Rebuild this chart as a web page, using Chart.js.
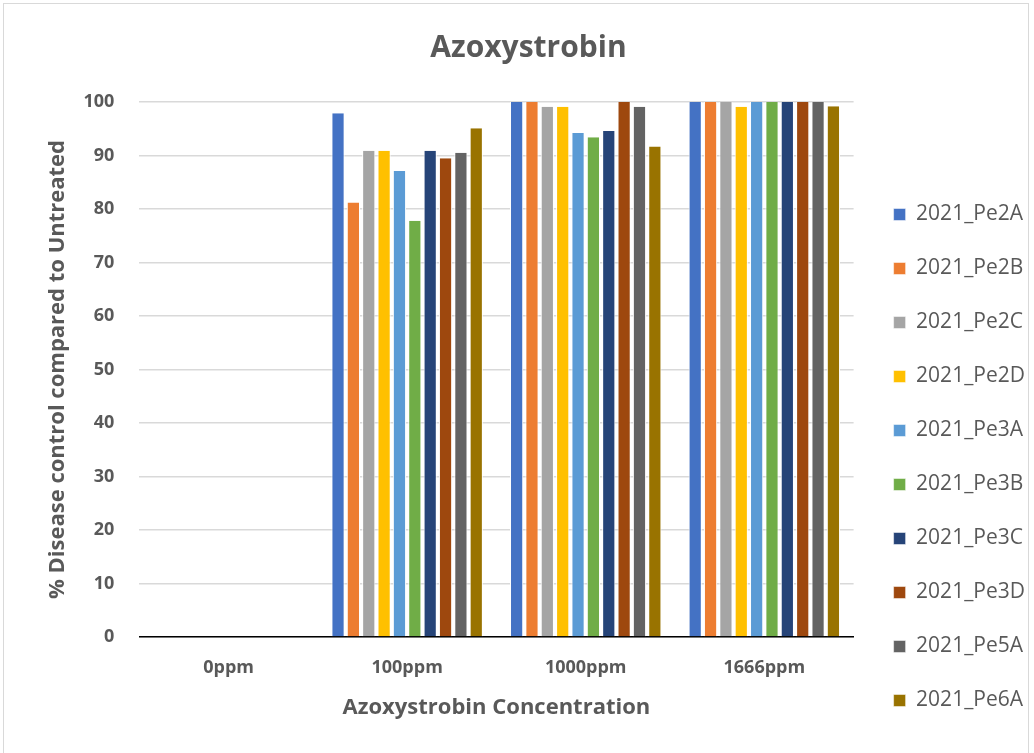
<!DOCTYPE html>
<html>
<head>
<meta charset="utf-8">
<script src="https://cdn.jsdelivr.net/npm/chart.js@4/dist/chart.umd.min.js"></script>
<style>
  html, body { margin: 0; padding: 0; background: #fff; }
  #wrap { position: absolute; left: 3px; top: 3px; width: 1026px; height: 750px; border: 1px solid #d9d9d9; border-bottom: none; box-sizing: border-box; }
  canvas { display: block; }
</style>
</head>
<body>
<div id="wrap"><canvas id="chart"></canvas></div>
<script>
// ===== DATOS =====
const categories = ['0ppm', '100ppm', '1000ppm', '1666ppm'];
const seriesNames = ['2021_Pe2A', '2021_Pe2B', '2021_Pe2C', '2021_Pe2D', '2021_Pe3A',
                     '2021_Pe3B', '2021_Pe3C', '2021_Pe3D', '2021_Pe5A', '2021_Pe6A'];
const pe2A = [0, 97.9, 100, 100];
const pe2B = [0, 81.2, 100, 100];
const pe2C = [0, 90.9, 99.1, 100];
const pe2D = [0, 90.9, 99.1, 99.1];
const pe3A = [0, 87.1, 94.2, 100];
const pe3B = [0, 77.8, 93.4, 100];
const pe3C = [0, 90.9, 94.6, 100];
const pe3D = [0, 89.5, 100, 100];
const pe5A = [0, 90.5, 99.1, 100];
const pe6A = [0, 95.1, 91.7, 99.2];
const yTicks = [0, 10, 20, 30, 40, 50, 60, 70, 80, 90, 100];

const seriesValues = [pe2A, pe2B, pe2C, pe2D, pe3A, pe3B, pe3C, pe3D, pe5A, pe6A];
const seriesColors = ['#4472c4', '#ed7d31', '#a5a5a5', '#ffc000', '#5b9bd5',
                      '#70ad47', '#264478', '#9e480e', '#636363', '#997300'];

const FONT = 'Open Sans, sans-serif';
const TEXT = '#595959';

// Ajusta posición de leyenda y título (como en Excel)
const layoutTweaks = {
    id: 'layoutTweaks',
    afterLayout: (chart) => {
        const lg = chart.legend;
        if (lg) {
            lg.top += 19;
            lg.bottom += 19;
            lg.left += 7;
            lg.right += 7;
        }
        const tt = chart.titleBlock;
        if (tt) {
            tt.left -= 8;
            tt.right -= 8;
        }
    }
};

const datasets = seriesNames.map((name, i) => ({
    label: name,
    data: seriesValues[i],
    backgroundColor: seriesColors[i],
    borderColor: '#ffffff',
    borderWidth: { left: 1, right: 1, top: 0, bottom: 0 },
    categoryPercentage: 0.86,
    barPercentage: 0.86
}));

new Chart(document.getElementById('chart'), {
    type: 'bar',
    data: { labels: categories, datasets: datasets },
    plugins: [layoutTweaks],
    options: {
        responsive: true,
        maintainAspectRatio: false,
        animation: false,
        layout: { padding: { left: 41, right: 0, top: 14, bottom: 28 } },
        plugins: {
            title: {
                display: true,
                text: 'Azoxystrobin',
                color: TEXT,
                font: { family: FONT, size: 30, weight: 'bold' },
                padding: { top: 12, bottom: 36 }
            },
            legend: {
                position: 'right',
                align: 'end',
                labels: {
                    color: TEXT,
                    font: { family: FONT, size: 21 },
                    boxWidth: 12,
                    boxHeight: 12,
                    padding: 33
                }
            },
            tooltip: { enabled: false }
        },
        scales: {
            x: {
                grid: { display: false },
                border: { color: '#000000', width: 1.5 },
                ticks: { color: TEXT, font: { family: FONT, size: 18, weight: 'bold' }, padding: 12 },
                title: {
                    display: true,
                    text: 'Azoxystrobin Concentration',
                    color: TEXT,
                    font: { family: FONT, size: 22, weight: 'bold' },
                    padding: { top: 4, bottom: 4 }
                }
            },
            y: {
                min: 0,
                max: 100,
                afterBuildTicks: axis => { axis.ticks = yTicks.map(v => ({ value: v })); },
                grid: { color: '#d9d9d9', lineWidth: 1.5, drawTicks: false },
                border: { display: false },
                ticks: { color: TEXT, font: { family: FONT, size: 18, weight: 'bold' }, padding: 25 },
                title: {
                    display: true,
                    text: '% Disease control compared to Untreated',
                    color: TEXT,
                    font: { family: FONT, size: 22, weight: 'bold' },
                    padding: { top: 0, bottom: -13 }
                }
            }
        }
    }
});
</script>
</body>
</html>
